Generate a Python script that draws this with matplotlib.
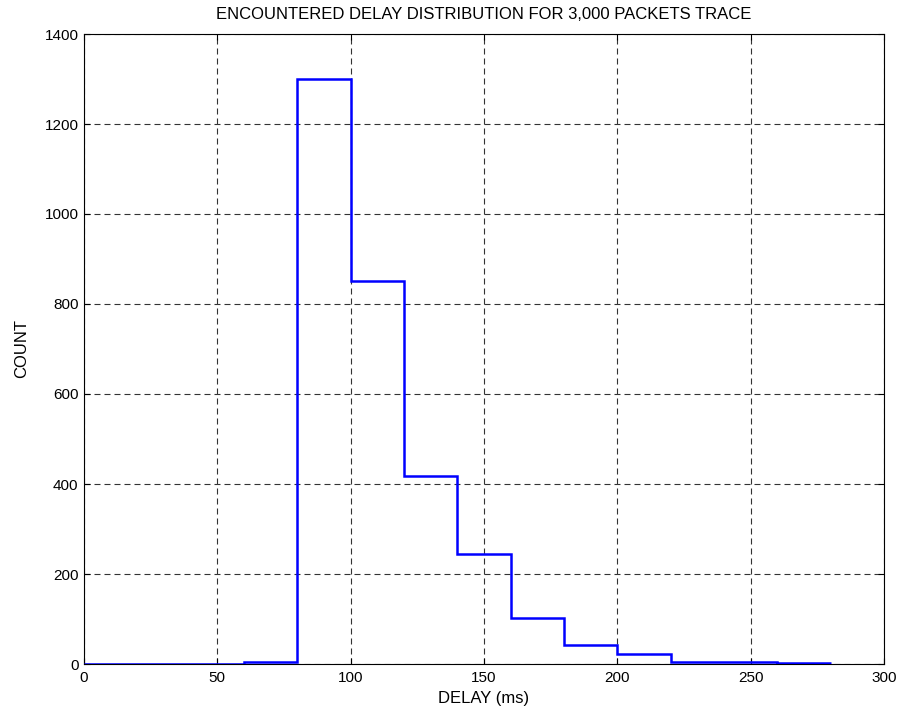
import matplotlib
matplotlib.use("Agg")
import matplotlib.pyplot as plt
import numpy as np

plt.rcParams['font.family'] = ['Liberation Sans', 'DejaVu Sans']

# Histogram bin edges (ms) and packet counts per bin
bin_edges = [0, 20, 40, 60, 80, 100, 120, 140, 160, 180, 200, 220, 240, 260, 280]
counts = [0, 0, 0, 5, 1300, 852, 418, 245, 103, 43, 22, 5, 5, 2]

x_ticks = [0, 50, 100, 150, 200, 250, 300]
y_ticks = [0, 200, 400, 600, 800, 1000, 1200, 1400]

fig = plt.figure(figsize=(8.99, 7.15), dpi=100)
ax = fig.add_axes([84 / 899, 1 - 664 / 715, 800 / 899, 630 / 715])

ax.stairs(counts, bin_edges, baseline=None, color=(0, 0, 1), linewidth=1.8, zorder=3)

ax.set_xlim(0, 300)
ax.set_ylim(0, 1400)
ax.set_xticks(x_ticks)
ax.set_yticks(y_ticks)
ax.tick_params(direction='in', top=True, right=True, length=4, width=0.8,
               labelsize=11)
ax.tick_params(axis='x', pad=5)
ax.tick_params(axis='y', pad=4)
ax.grid(True, color='#333333', linestyle=(0, (5.4, 3.6)), linewidth=0.8)
for s in ax.spines.values():
    s.set_linewidth(0.8)

ax.set_title('ENCOUNTERED DELAY DISTRIBUTION FOR 3,000 PACKETS TRACE', fontsize=12, pad=11)
ax.set_xlabel('DELAY (ms)', fontsize=12, labelpad=4)
ax.set_ylabel('COUNT', fontsize=12, labelpad=11)

fig.savefig('out.png', dpi=100)
